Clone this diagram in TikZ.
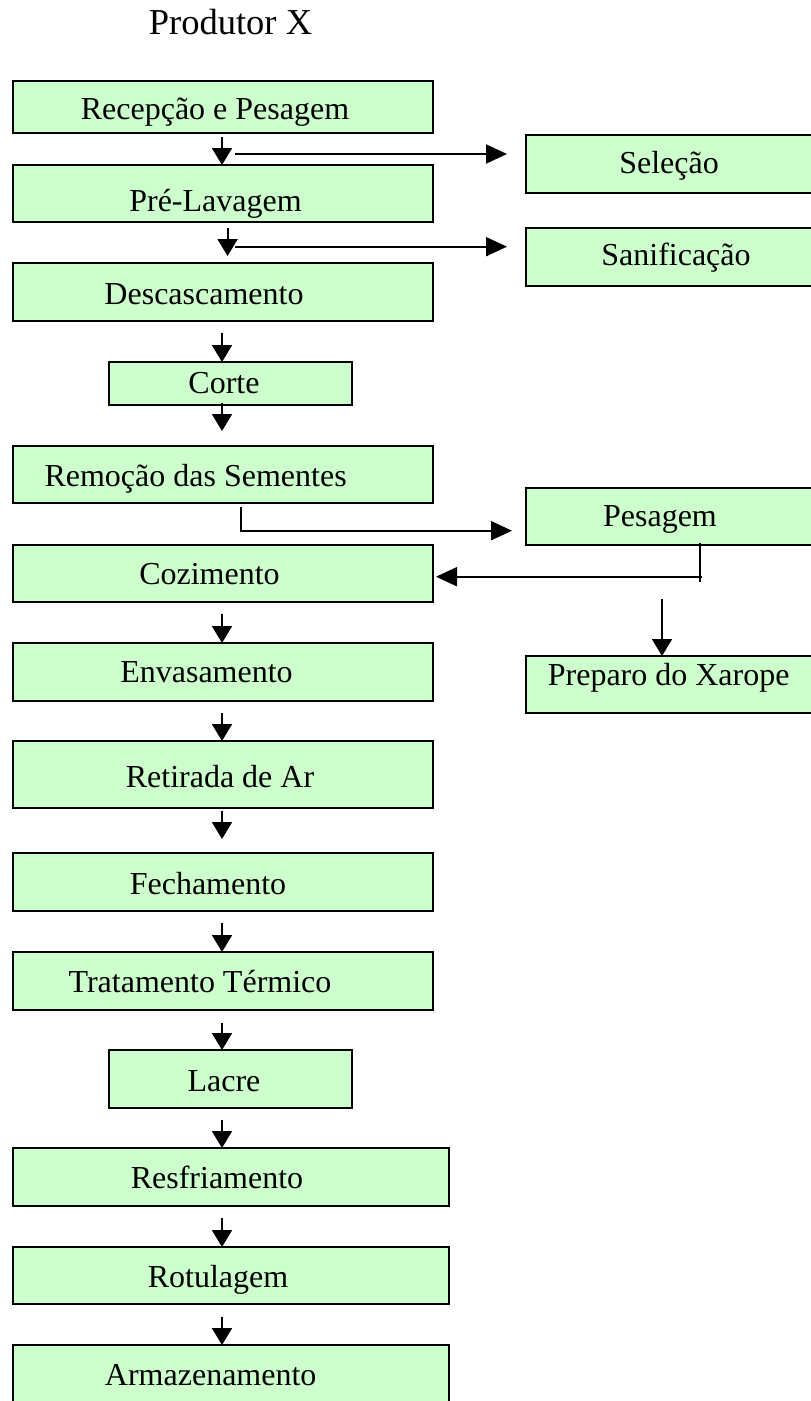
\documentclass[tikz,border=0pt]{standalone}
\usepackage{fontspec}
\setmainfont{Liberation Serif}
\usetikzlibrary{arrows.meta}
\definecolor{boxgreen}{RGB}{204,255,204}
\tikzset{
  pbox/.style={draw=black, fill=boxgreen, line width=2pt, rectangle, inner sep=0pt, outer sep=0pt},
  lbl/.style={inner sep=0pt, outer sep=0pt, anchor=base, font=\fontsize{32}{38}\selectfont},
  ttl/.style={inner sep=0pt, outer sep=0pt, anchor=base, font=\fontsize{36.5}{44}\selectfont},
  varr/.style={line width=2pt, -{Triangle[length=17pt,width=20pt]}},
  harr/.style={line width=2pt, -{Triangle[length=21pt,width=19pt]}},
  thinline/.style={line width=1.2pt},
}
% box: name, left, right, top, bottom (y grows downward)
\newcommand\procbox[5]{%
  \node[pbox, minimum width={(#3-#2)*1pt}, minimum height={(#5-#4)*1pt}]
    (#1) at ({(#2+#3)/2},{(#4+#5)/2}) {};}
\begin{document}
\begin{tikzpicture}[x=1pt,y=-1pt]
\useasboundingbox (0,0) rectangle (811,1401);
\fill[white] (0,0) rectangle (811,1401);
\clip (0,0) rectangle (811,1401);

% title
\node[ttl] (title) at (230.5,34) {Produtor X};

% main process column
\procbox{rec}{13}{433}{81}{133}
\procbox{pre}{13}{433}{165}{222}
\procbox{des}{13}{433}{263}{321}
\procbox{cor}{109}{352}{362}{405}
\procbox{rem}{13}{433}{446}{503}
\procbox{coz}{13}{433}{545}{602}
\procbox{env}{13}{433}{643}{701}
\procbox{ret}{13}{433}{741}{808}
\procbox{fec}{13}{433}{853}{911}
\procbox{tra}{13}{433}{952}{1010}
\procbox{lac}{109}{352}{1050}{1108}
\procbox{res}{13}{449}{1148}{1206}
\procbox{rot}{13}{449}{1247}{1304}
\procbox{arm}{13}{449}{1345}{1420}

% side column
\procbox{sel}{525.6}{816}{135}{193}
\procbox{san}{525.6}{816}{228}{286}
\procbox{pes}{525.6}{816}{488}{545}
\procbox{xar}{525.6}{816}{656}{713}

% labels
\node[lbl] (rec-t) at (215,119) {Recepção e Pesagem};
\node[lbl] (pre-t) at (215.5,211.7) {Pré-Lavagem};
\node[lbl] (des-t) at (204,304) {Descascamento};
\node[lbl] (cor-t) at (224,393) {Corte};
\node[lbl] (rem-t) at (195.6,486.7) {Remoção das Sementes};
\node[lbl] (coz-t) at (209.5,584) {Cozimento};
\node[lbl] (env-t) at (206.5,682.7) {Envasamento};
\node[lbl] (ret-t) at (220,787.7) {Retirada de Ar};
\node[lbl] (fec-t) at (208,894) {Fechamento};
\node[lbl] (tra-t) at (200,992) {Tratamento Térmico};
\node[lbl] (lac-t) at (224,1091.7) {Lacre};
\node[lbl] (res-t) at (217,1188) {Resfriamento};
\node[lbl] (rot-t) at (218,1287.7) {Rotulagem};
\node[lbl] (arm-t) at (210.7,1385) {Armazenamento};
\node[lbl] (sel-t) at (669,173) {Seleção};
\node[lbl] (san-t) at (676,265.7) {Sanificação};
\node[lbl] (pes-t) at (660,526) {Pesagem};
\node[lbl] (xar-t) at (668.7,685.7) {Preparo do Xarope};

% flow down the main column
\coordinate (a1) at (222,137);    \draw[varr] (a1) -- (a1 |- pre.north);
\coordinate (a2) at (227.6,228);  \draw[varr, shorten >=7pt] (a2) -- (a2 |- des.north);
\coordinate (a3) at (222,333);    \draw[varr] (a3) -- (a3 |- cor.north);
\coordinate (a4) at (222,403);    \draw[varr, shorten >=15pt] (a4) -- (a4 |- rem.north);
\coordinate (a5) at (222,614);    \draw[varr] (a5) -- (a5 |- env.north);
\coordinate (a6) at (222,713);    \draw[varr] (a6) -- (a6 |- ret.north);
\coordinate (a7) at (222,811);    \draw[varr, shorten >=14pt] (a7) -- (a7 |- fec.north);
\coordinate (a8) at (222,923);    \draw[varr] (a8) -- (a8 |- tra.north);
\coordinate (a9) at (222,1022.7); \draw[varr] (a9) -- (a9 |- lac.north);
\coordinate (a10) at (222,1120);  \draw[varr] (a10) -- (a10 |- res.north);
\coordinate (a11) at (222,1218);  \draw[varr] (a11) -- (a11 |- rot.north);
\coordinate (a12) at (222,1316.7);\draw[varr] (a12) -- (a12 |- arm.north);

% branches to the side column
\coordinate (s1) at (235,154);    \draw[harr, shorten >=18.6pt] (s1) -- (s1 -| sel.west);
\coordinate (s2) at (235,246.7);  \draw[harr, shorten >=18.6pt] (s2) -- (s2 -| san.west);
\coordinate (r1) at (240.6,507);
\coordinate (r2) at (240.6,530.7);
\draw[harr, shorten >=13.6pt] (r1) -- (r2) -- (r2 -| pes.west);

% weighed fruit back to cooking, and syrup preparation
\coordinate (p1) at (700,543);
\coordinate (p2) at (700,581.7);
\draw[thinline] (p1) -- (p2);
\coordinate (p3) at (702,576.7);
\draw[harr, shorten >=3pt] (p3) -- (p3 -| coz.east);
\coordinate (x1) at (662,599);    \draw[varr] (x1) -- (x1 |- xar.north);
\end{tikzpicture}
\end{document}
